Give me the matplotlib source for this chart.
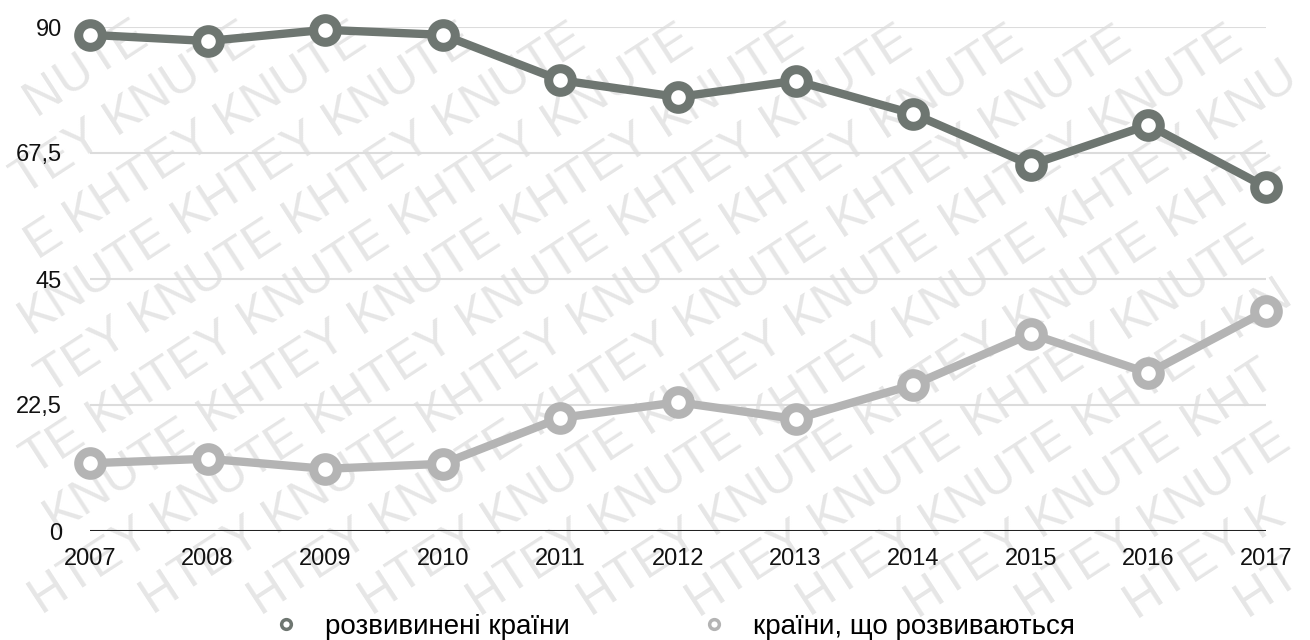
import numpy as np
import matplotlib.pyplot as plt
from matplotlib.lines import Line2D

plt.rcParams['font.family'] = ['Liberation Sans', 'DejaVu Sans']

years = [2007, 2008, 2009, 2010, 2011, 2012, 2013, 2014, 2015, 2016, 2017]
developed = [88.6, 87.5, 89.5, 88.6, 80.5, 77.5, 80.4, 74.5, 65.4, 72.5, 61.4]
developing = [12.1, 12.9, 11.1, 12.0, 20.2, 23.0, 20.0, 26.1, 35.2, 28.2, 39.3]
yticks = [0, 22.5, 45, 67.5, 90]
ytick_labels = ["0", "22,5", "45", "67,5", "90"]
labels = ["розвивинені країни", "країни, що розвиваються"]
wm_words = ["KHTEY", "KNUTE"]
c_dev = "#6e7671"
c_devg = "#b4b4b4"

W, H = 1310, 640
fig = plt.figure(figsize=(W / 100, H / 100), dpi=100)

ax = fig.add_axes([90 / W, 1 - 531 / H, (1266 - 90) / W, (531 - 27) / H])
ax.patch.set_alpha(0)
ax.set_zorder(2)
ax.set_xlim(2007, 2017)
ax.set_ylim(0, 90)

for y in yticks[1:]:
    ax.axhline(y, color="#dcdcdc", lw=1.5, zorder=1)
ax.axhline(0, color="#222222", lw=2.2, zorder=1)

ax.plot(years, developed, color=c_dev, lw=6, marker="o", ms=17, mfc="white", mec=c_dev, mew=6.5,
        clip_on=False, zorder=3)
ax.plot(years, developing, color=c_devg, lw=6, marker="o", ms=17, mfc="white", mec=c_devg, mew=6.5,
        clip_on=False, zorder=3)

for s in ax.spines.values():
    s.set_visible(False)
ax.set_xticks(years)
ax.set_xticklabels([str(y) for y in years], fontsize=17, color="#111111")
ax.set_yticks(yticks)
ax.set_yticklabels(ytick_labels, fontsize=17, color="#111111")
ax.tick_params(length=0)
ax.tick_params(axis="x", pad=12)
ax.tick_params(axis="y", pad=20)

handles = [Line2D([], [], ls="none", marker="o", ms=7, mfc="white", mec=c_dev, mew=2.5),
           Line2D([], [], ls="none", marker="o", ms=7, mfc="white", mec=c_devg, mew=2.5)]
fig.legend(handles, labels, loc="center", bbox_to_anchor=(0.509, 0.02), ncol=2, frameon=False,
           fontsize=20, columnspacing=4.2, handletextpad=0.4)

# watermark: tiled words along a 33 degree diagonal; near the edges only the letters that fit
fig.canvas.draw()
r = fig.canvas.get_renderer()
fs = 36
wm_kw = dict(fontsize=fs, color="#e6e6e6", rotation=33, rotation_mode="anchor",
             ha="left", va="baseline", zorder=0)


def text_w(s):
    t = fig.text(0, 0, s, fontsize=fs)
    wd = t.get_window_extent(r).width
    t.remove()
    return wd


widths = [text_w(w + " ") for w in wm_words]
prefix = [[0] + [text_w(w[:j]) for j in range(1, len(w))] for w in wm_words]


def inside(t):
    bb = t.get_window_extent(r)
    return bb.x0 >= 1 and bb.y0 >= 1 and bb.x1 <= W - 1 and bb.y1 <= H - 1


a = np.deg2rad(33)
u = np.array([np.cos(a), np.sin(a)])
n = np.array([-np.sin(a), np.cos(a)])
dperp = 60
for k in range(-25, 25):
    s = -1800 + (k * 90) % sum(widths)
    i = k % 2
    while s < 1800:
        p = k * dperp * n + s * u
        if -300 < p[0] < W + 300 and -300 < p[1] < H + 300:
            t = fig.text(p[0] / W, p[1] / H, wm_words[i], **wm_kw)
            if not inside(t):
                t.remove()
                for j, ch in enumerate(wm_words[i]):
                    q = p + prefix[i][j] * u
                    tc = fig.text(q[0] / W, q[1] / H, ch, **wm_kw)
                    if not inside(tc):
                        tc.remove()
        s += widths[i]
        i = 1 - i

fig.savefig("out.png", dpi=100)
